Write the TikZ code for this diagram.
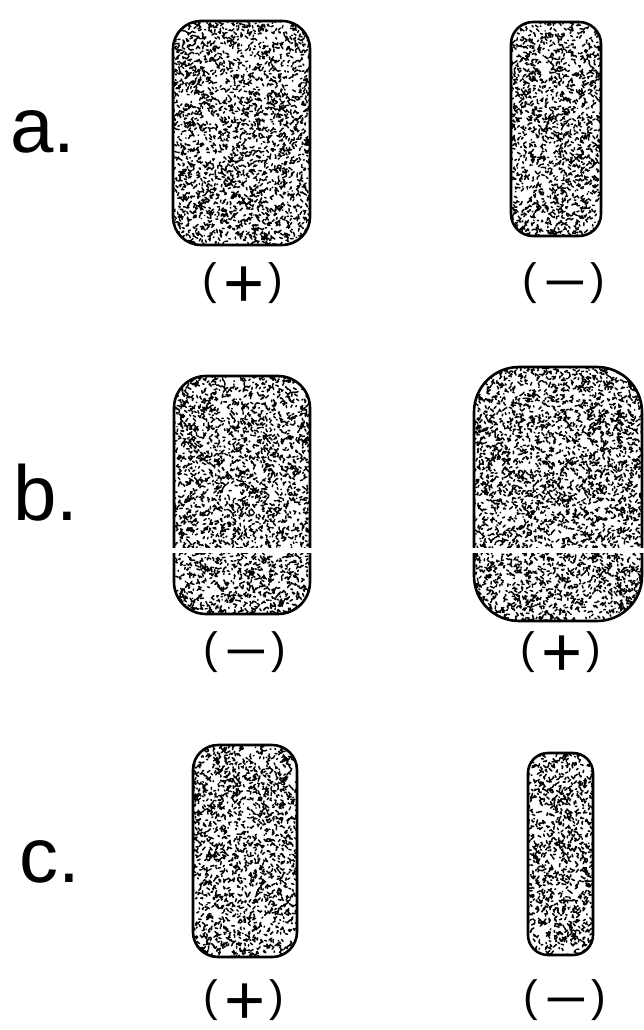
\documentclass[tikz,border=0pt]{standalone}
\usepackage{fontspec}
\setmainfont{Liberation Sans}
\usepackage{graphicx}
\newcommand\plussign{\raisebox{-13pt}[0pt][0pt]{\scalebox{1.6}{+}}}
\newcommand\minussign{\raisebox{-6.5pt}[0pt][0pt]{\scalebox{1.7}[1.2]{\char"2212}}}
\newcommand\signlabel[1]{(\kern6pt#1\kern4pt)}
\tikzset{
  blob/.style n args={3}{draw=black, line width=2.6pt, rounded corners=#3pt,
    minimum width=#1pt, minimum height=#2pt, inner sep=0pt, outer sep=0pt,
    path picture={
      \pgfmathtruncatemacro\nblob{(#1/12)*#2}
      \draw[line width=1.5pt, line cap=round, sharp corners]
        foreach \k in {1,...,\nblob} {(rand*#1/2, rand*#2/2) -- ++(rand*2.8, rand*2.8)};
      }},
  sign/.style={font=\fontsize{44}{48}\selectfont, inner sep=0pt},
  letter/.style={font=\fontsize{78}{80}\selectfont, inner sep=0pt, anchor=base west},
  gapband/.style={white, line width=5pt}
}
\begin{document}
\begin{tikzpicture}[x=1pt, y=-1pt]
\useasboundingbox (0,0) rectangle (644,1030);
\pgfmathsetseed{4242}
% row a
\node[letter] (la) at (10,153) {a.};
\node[blob={137}{224}{28}] (aL) at (241.5,133) {};
\node[blob={90}{214}{22}] (aR) at (556,129) {};
\node[sign] (saL) at (243,283) {\signlabel{\plussign}};
\node[sign] (saR) at (564,283) {\signlabel{\minussign}};
% row b
\node[letter] (lb) at (13,520) {b.};
\node[blob={136}{238}{32}] (bL) at (242,495) {};
\node[blob={168}{254}{45}] (bR) at (558,494) {};
\coordinate (gap) at (0,550);
\draw[gapband] ([xshift=-3pt]bL.west |- gap) -- ([xshift=3pt]bL.east |- gap);
\draw[gapband] ([xshift=-3pt]bR.west |- gap) -- ([xshift=3pt]bR.east |- gap);
\node[sign] (sbL) at (245,652) {\signlabel{\minussign}};
\node[sign] (sbR) at (561,652) {\signlabel{\plussign}};
% row c
\node[letter] (lc) at (19,882) {c.};
\node[blob={104}{212}{25}] (cL) at (245,851) {};
\node[blob={65}{202}{20}] (cR) at (560.5,854) {};
\node[sign] (scL) at (244,1000) {\signlabel{\plussign}};
\node[sign] (scR) at (565,1000) {\signlabel{\minussign}};
\end{tikzpicture}
\end{document}
